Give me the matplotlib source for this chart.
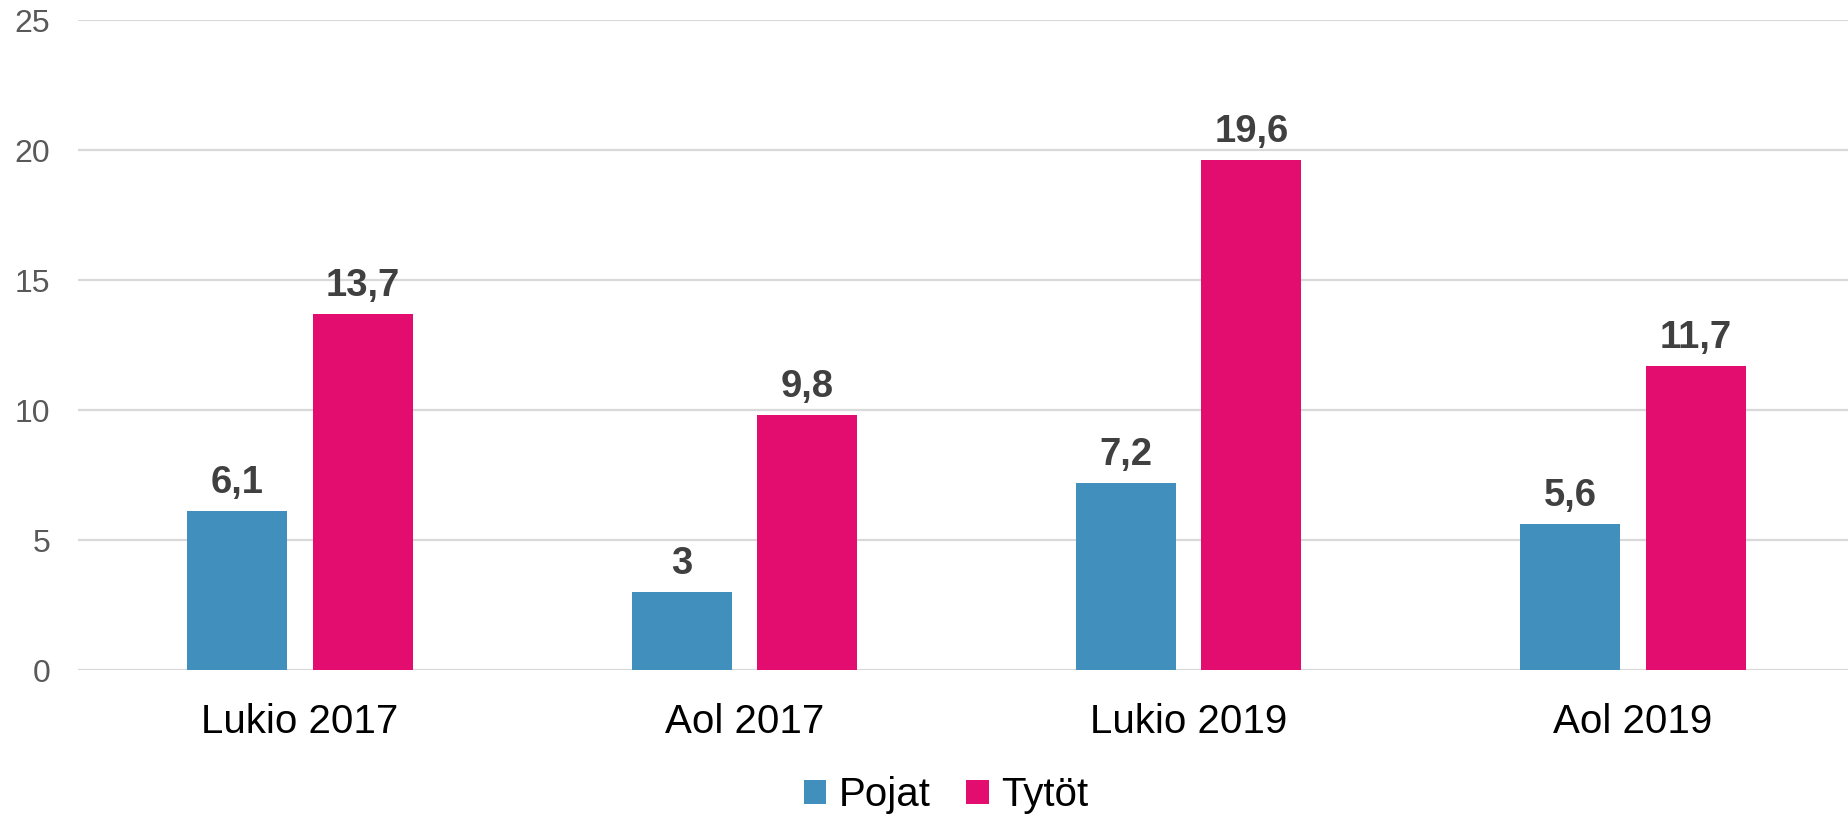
import matplotlib
matplotlib.use("Agg")
import matplotlib.pyplot as plt
import numpy as np

categories = ["Lukio 2017", "Aol 2017", "Lukio 2019", "Aol 2019"]
pojat = [6.1, 3.0, 7.2, 5.6]
tytot = [13.7, 9.8, 19.6, 11.7]
series_names = ["Pojat", "Tytöt"]
yticks = [0, 5, 10, 15, 20, 25]

plt.rcParams['font.family'] = ['Liberation Sans', 'DejaVu Sans']

W, H = 1848, 817
fig = plt.figure(figsize=(W/100, H/100), dpi=100)
ax = fig.add_axes([78/W, 1-670/H, (1848-78)/W, (670-20)/H])

x = np.arange(len(categories))
bw = 0.225
off = 0.141
c_blue = "#418FBC"
c_pink = "#E20D6F"
b1 = ax.bar(x - off, pojat, bw, color=c_blue, label=series_names[0], zorder=3)
b2 = ax.bar(x + off, tytot, bw, color=c_pink, label=series_names[1], zorder=3)

def fmt(v):
    s = ("%.1f" % v).rstrip('0').rstrip('.')
    return s.replace('.', ',')

for bars, vals in ((b1, pojat), (b2, tytot)):
    for r, v in zip(bars, vals):
        ax.annotate(fmt(v), (r.get_x() + r.get_width()/2, v), xytext=(0, 10),
                    textcoords='offset pixels', ha='center', va='bottom',
                    fontsize=27.5, fontweight='bold', color='#404040')

ax.set_xlim(-0.4997, 3.484)
ax.set_ylim(0, 25)
ax.set_yticks(yticks)
ax.set_yticklabels([str(t) for t in yticks], fontsize=23, color='#595959')
ax.set_xticks(x)
ax.set_xticklabels(categories, fontsize=29, color='black')
ax.tick_params(axis='both', length=0)
ax.tick_params(axis='y', pad=20)
ax.tick_params(axis='x', pad=23.5)
ax.grid(axis='y', color='#D9D9D9', linewidth=1.6, zorder=0)
for s in ax.spines.values():
    s.set_visible(False)

leg = fig.legend(handles=[b1, b2], labels=series_names, loc='center',
                 bbox_to_anchor=(946/W, 1-795/H), ncol=2, frameon=False,
                 fontsize=29, handlelength=0.55, handleheight=0.55,
                 handletextpad=0.3, columnspacing=0.9)

fig.savefig("out.png", dpi=100, facecolor='white')
